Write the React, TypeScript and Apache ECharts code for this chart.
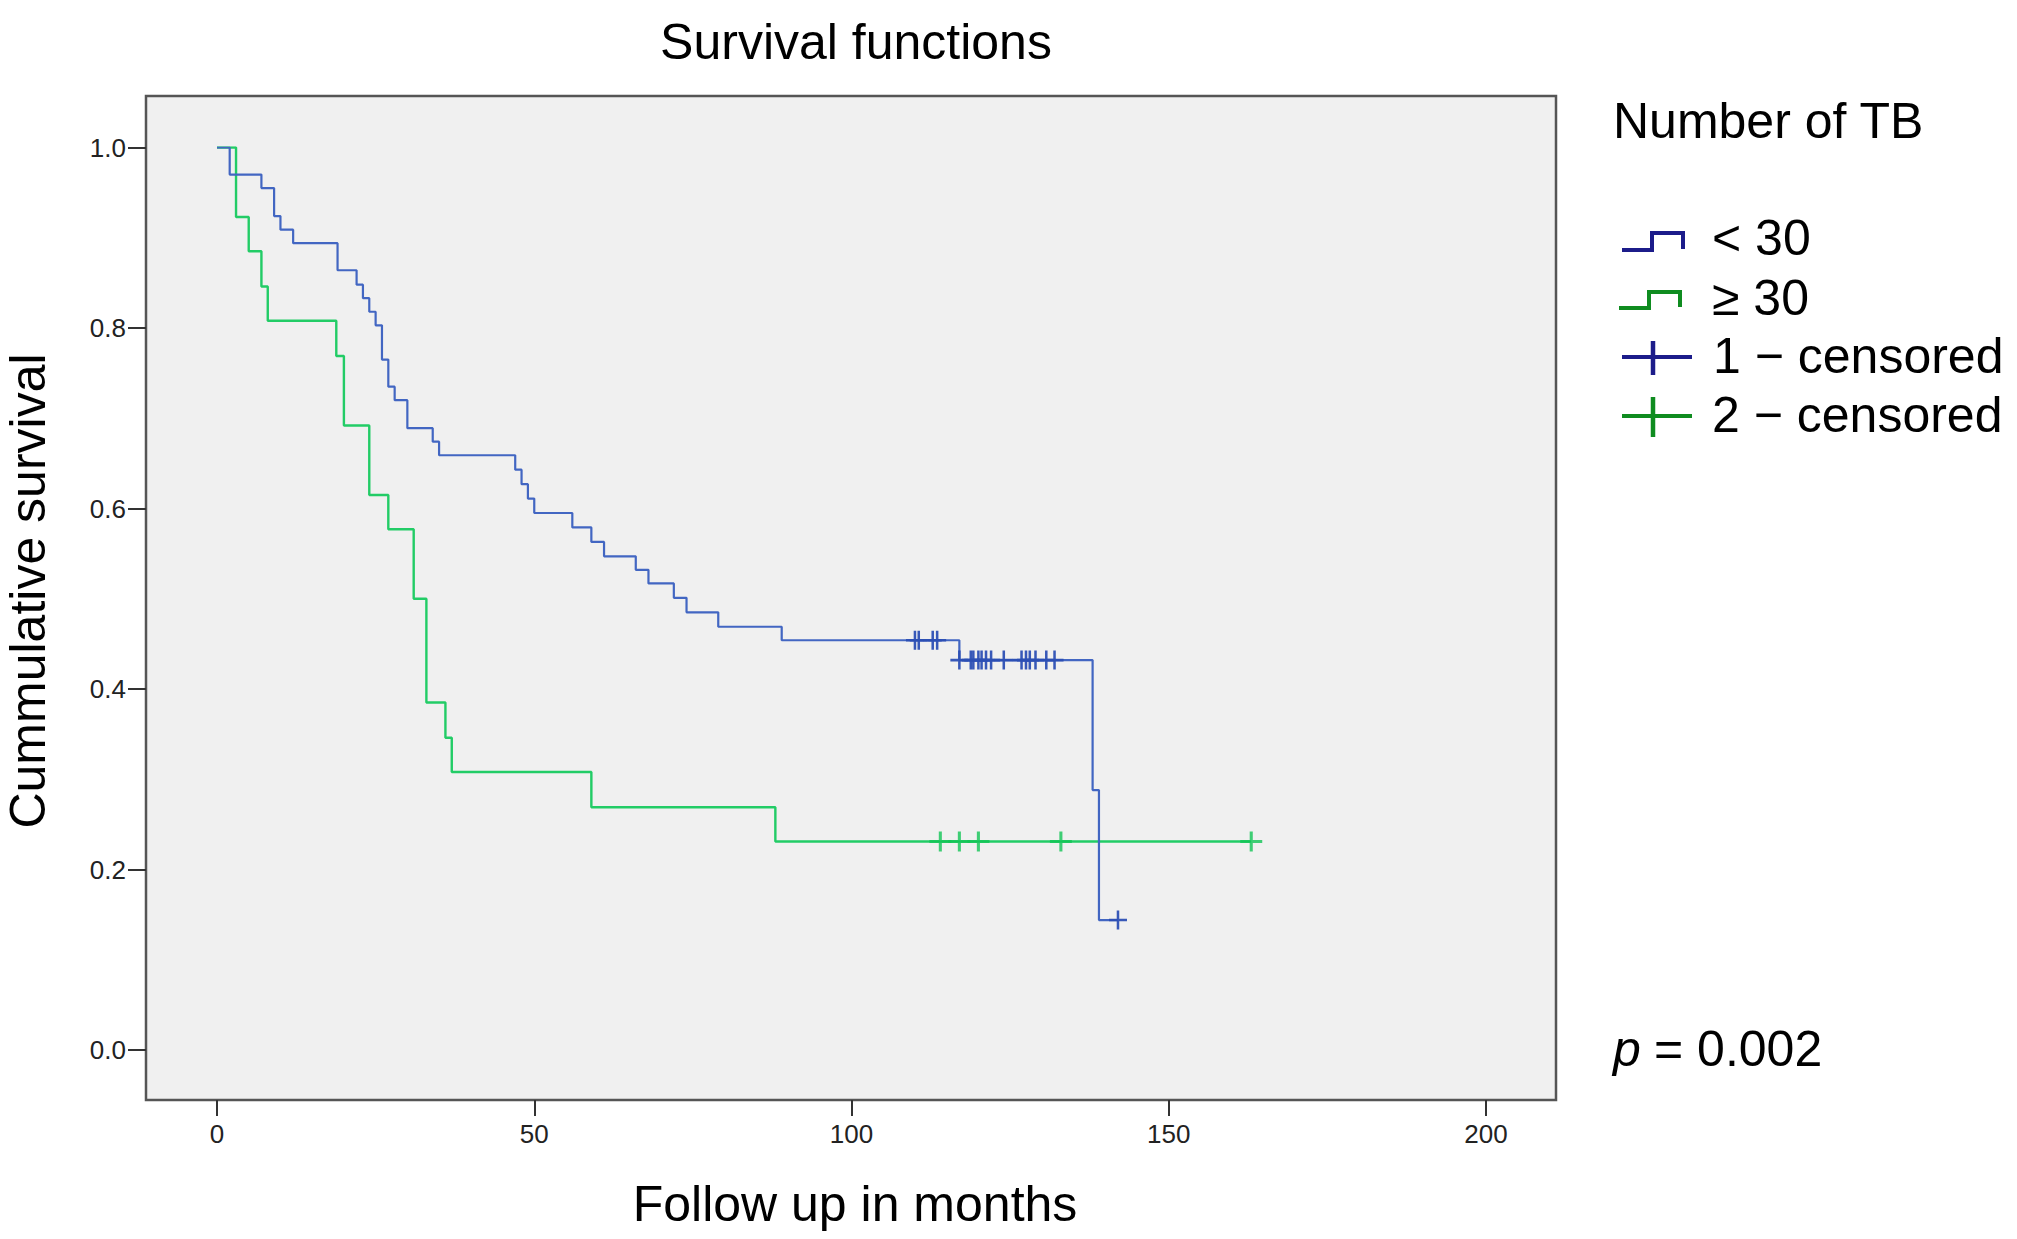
import React, { useEffect, useRef } from "react";
import * as echarts from "echarts";

// ---- Data ----
// Group 1: Number of TB < 30  (event times in months, survival after the event)
const blueTimes = [0, 2, 7, 9, 10, 12, 19, 22, 23, 24, 25, 26, 27, 28, 30, 34, 35, 47, 48, 49, 50, 56, 59, 61, 66, 68, 72, 74, 79, 89, 117, 138, 139, 142];
const blueSurv = [1.0, 0.970, 0.955, 0.924, 0.909, 0.894, 0.864, 0.848, 0.833, 0.818, 0.803, 0.765, 0.735, 0.720, 0.689, 0.674, 0.659, 0.643, 0.627, 0.611, 0.595, 0.579, 0.563, 0.547, 0.532, 0.517, 0.501, 0.485, 0.469, 0.454, 0.432, 0.288, 0.144, 0.144];
const blueCensored = [110, 110.6, 112.8, 113.5, 117, 118.8, 119.2, 120, 120.5, 121.2, 122, 124, 126.8, 127.5, 128.1, 129, 130.7, 132, 142];

// Group 2: Number of TB >= 30
const greenTimes = [0, 3, 5, 7, 8, 18.8, 20, 24, 27, 31, 33, 36, 37, 59, 88, 163];
const greenSurv = [1.0, 0.923, 0.885, 0.846, 0.808, 0.769, 0.692, 0.615, 0.577, 0.500, 0.385, 0.346, 0.308, 0.269, 0.231, 0.231];
const greenCensored = [114, 117, 120, 133, 163];

const xTicks = { min: 0, max: 200, interval: 50 };
const yTicks = { min: 0, max: 1, interval: 0.2 };

const seriesNames = ["< 30", "\u2265 30", "1 \u2212 censored", "2 \u2212 censored"];

const FONT = '"Liberation Sans", Arial, Helvetica, sans-serif';

function survAt(times: number[], surv: number[], t: number) {
  let s = surv[0];
  for (let i = 0; i < times.length; i++) if (times[i] <= t) s = surv[i];
  return s;
}

const PLUS = "path://M8.6,0 H11.4 V8.6 H20 V11.4 H11.4 V20 H8.6 V11.4 H0 V8.6 H8.6 Z";

export default function App() {
  const ref = useRef<HTMLDivElement>(null);

  useEffect(() => {
    document.body.style.margin = "0";
    if (!ref.current) return;
    const chart = echarts.init(ref.current, undefined, { renderer: "svg" });

    const blueLine = blueTimes.map((t, i) => [t, blueSurv[i]]);
    const greenLine = greenTimes.map((t, i) => [t, greenSurv[i]]);
    const blueCens = blueCensored.map((t) => [t, survAt(blueTimes, blueSurv, t)]);
    const greenCens = greenCensored.map((t) => [t, survAt(greenTimes, greenSurv, t)]);

    const bigText = (text: string, x: number, y: number, align: string, extra: any = {}) => ({
      type: "text",
      x,
      y,
      ...(extra.rotation !== undefined ? { rotation: extra.rotation } : {}),
      style: {
        text,
        x: 0,
        y: 0,
        fill: "#000",
        fontSize: 50,
        fontFamily: FONT,
        align,
        textAlign: align,
        verticalAlign: "middle",
        textVerticalAlign: "middle",
        ...(extra.styleExtra || {}),
      },
    });

    const navy = "#1c1c8a";
    const dgreen = "#0f8c20";

    chart.setOption({
      animation: false,
      grid: [
        { left: 217, right: 531, top: 147.5, bottom: 189 },
        {
          left: 146,
          right: 461,
          top: 96,
          bottom: 139,
          show: true,
          backgroundColor: "#f0f0f0",
          borderColor: "#555",
          borderWidth: 2.5,
          z: -1,
        },
      ],
      xAxis: [
        {
          type: "value",
          gridIndex: 0,
          position: "bottom",
          min: xTicks.min,
          max: xTicks.max,
          interval: xTicks.interval,
          offset: 50,
          axisLine: { show: false, onZero: false },
          axisTick: { show: true, length: 16, lineStyle: { color: "#333", width: 2 } },
          axisLabel: { margin: 21, fontSize: 26, color: "#222", fontFamily: FONT },
          splitLine: { show: false },
        },
        { type: "value", gridIndex: 1, show: false, min: 0, max: 1 },
      ],
      yAxis: [
        {
          type: "value",
          gridIndex: 0,
          position: "left",
          min: yTicks.min,
          max: yTicks.max,
          interval: yTicks.interval,
          offset: 71,
          axisLine: { show: false, onZero: false },
          axisTick: { show: true, length: 18, lineStyle: { color: "#333", width: 2 } },
          axisLabel: {
            margin: 20,
            fontSize: 26,
            color: "#222",
            fontFamily: FONT,
            formatter: (v: number) => v.toFixed(1),
          },
          splitLine: { show: false },
        },
        { type: "value", gridIndex: 1, show: false, min: 0, max: 1 },
      ],
      series: [
        {
          name: seriesNames[0],
          type: "line",
          step: "end",
          data: blueLine,
          symbol: "none",
          lineStyle: { color: "#4266c2", width: 2.2 },
          z: 3,
        },
        {
          name: seriesNames[1],
          type: "line",
          step: "end",
          data: greenLine,
          symbol: "none",
          lineStyle: { color: "#22cc66", width: 2.4 },
          z: 2,
        },
        {
          name: seriesNames[2],
          type: "scatter",
          data: blueCens,
          symbol: PLUS,
          symbolSize: [18, 19],
          itemStyle: { color: "#2c4fb4", opacity: 0.95 },
          z: 4,
        },
        {
          name: seriesNames[3],
          type: "scatter",
          data: greenCens,
          symbol: PLUS,
          symbolSize: [22, 20],
          itemStyle: { color: "#12c455" },
          z: 4,
        },
      ],
      graphic: [
        bigText("Survival functions", 856, 42, "center"),
        bigText("Follow up in months", 855, 1204, "center"),
        bigText("Cummulative survival", 28, 591, "center", { rotation: Math.PI / 2 }),
        bigText("Number of TB", 1613, 121, "left"),
        // legend icons
        {
          type: "polyline",
          shape: { points: [[1622, 250], [1652, 250], [1652, 233], [1683, 233], [1683, 249]] },
          style: { stroke: navy, lineWidth: 4, fill: "none" },
        },
        {
          type: "polyline",
          shape: { points: [[1619, 308], [1649, 308], [1649, 292], [1680, 292], [1680, 307]] },
          style: { stroke: dgreen, lineWidth: 4, fill: "none" },
        },
        { type: "line", shape: { x1: 1622, y1: 357, x2: 1692, y2: 357 }, style: { stroke: navy, lineWidth: 4 } },
        { type: "line", shape: { x1: 1653, y1: 341, x2: 1653, y2: 375 }, style: { stroke: navy, lineWidth: 4.5 } },
        { type: "line", shape: { x1: 1622, y1: 416, x2: 1692, y2: 416 }, style: { stroke: dgreen, lineWidth: 4 } },
        { type: "line", shape: { x1: 1653, y1: 397, x2: 1653, y2: 437 }, style: { stroke: dgreen, lineWidth: 4.5 } },
        bigText(seriesNames[0], 1712, 238, "left"),
        bigText(seriesNames[1], 1712, 298, "left"),
        bigText(seriesNames[2], 1713, 356, "left"),
        bigText(seriesNames[3], 1712, 415, "left"),
        // p value
        bigText("p", 1613, 1049, "left", { styleExtra: { fontStyle: "italic" } }),
        bigText("= 0.002", 1654, 1049, "left"),
      ],
    });

    return () => chart.dispose();
  }, []);

  return <div ref={ref} style={{ width: 2017, height: 1239 }} />;
}
